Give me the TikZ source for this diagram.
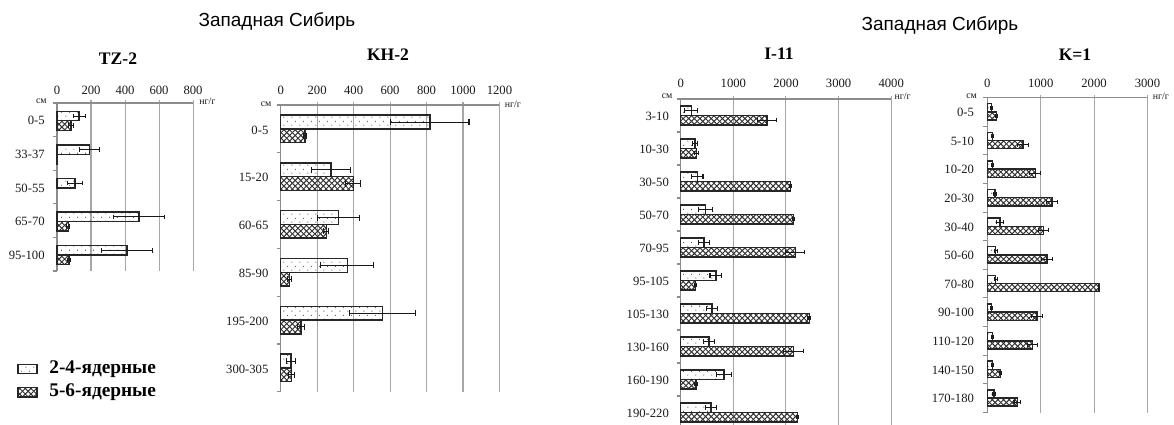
\documentclass[tikz,border=0pt]{standalone}
\usepackage{fontspec}
\setmainfont{Liberation Serif}
\newfontfamily\titlefont{Liberation Sans}
\usetikzlibrary{patterns,patterns.meta}

\tikzdeclarepattern{
  name=sparsedots,
  type=uncolored,
  bounding box={(0pt,0pt) and (4.6pt,4.6pt)},
  tile size={(4.6pt,4.6pt)},
  code={
    \fill (1.15pt,1.15pt) circle (0.35pt);
    \fill (3.45pt,3.45pt) circle (0.35pt);
  }
}
\tikzdeclarepattern{
  name=xhatch,
  type=uncolored,
  bounding box={(-0.5pt,-0.5pt) and (3.7pt,3.7pt)},
  tile size={(3.2pt,3.2pt)},
  code={
    \draw[line width=0.55pt] (0pt,0pt) -- (3.2pt,3.2pt) (0pt,3.2pt) -- (3.2pt,0pt);
  }
}

\begin{document}
\begin{tikzpicture}[x=0.02cm, y=-0.02cm,
  dotbar/.style={draw=black!85, line width=0.8pt, pattern=sparsedots, pattern color=black!75},
  hatchbar/.style={draw=black!85, line width=0.8pt, pattern=xhatch, pattern color=black!80},
  errbar/.style={draw=black!90, line width=0.6pt},
  gridline/.style={draw=black!35, line width=0.6pt},
  axisline/.style={draw=black!45, line width=0.6pt},
  catlabel/.style={font=\fontsize{7.2}{8}\selectfont, text=black!90, anchor=east, inner sep=0pt},
  ticklabel/.style={font=\fontsize{7.2}{8}\selectfont, text=black!90, inner sep=0pt},
  unitlabel/.style={font=\fontsize{5.6}{6}\selectfont, text=black!90, inner sep=0pt},
  charttitle/.style={font=\fontsize{10}{12}\selectfont\bfseries, inner sep=0pt},
  regiontitle/.style={font=\titlefont\fontsize{10.8}{13}\selectfont, inner sep=0pt},
  legendtext/.style={font=\fontsize{11}{13}\selectfont\bfseries, anchor=west, inner sep=0pt}]

  \useasboundingbox (0,0) rectangle (1174,425);

  \node[regiontitle] (west-a) at (277,22) {Западная Сибирь};
  \node[regiontitle] (west-b) at (940,26) {Западная Сибирь};

  \node[charttitle] (tz) at (118,59) {TZ-2};
  \node[charttitle] (kh) at (388,55) {KH-2};
  \node[charttitle] (ii) at (779,54) {I-11};
  \node[charttitle] (kk) at (1075,55) {K=1};

  % legend
  \draw[dotbar] (18,364.5) rectangle (37,373.5);
  \draw[hatchbar] (18,387.5) rectangle (37,397);
  \node[legendtext] (leg-a) at (49,369) {2-4-ядерные};
  \node[legendtext] (leg-b) at (49,392) {5-6-ядерные};

  % TZ-2
  \begin{scope}[shift={(57,103)}, x=0.0034cm]
    \foreach \v in {200,400,...,800} \draw[gridline] (\v,-3) -- (\v,168);
    \draw[axisline] (0,0) -- (800,0) (0,0) -- (0,168);
    \foreach \k in {0,...,5} \draw[axisline] (0,\k*33.6) -- ++(-0.08cm,0pt);
    \foreach \v in {0,200,...,800} \node[ticklabel] (tz-t\v) at (\v,-13) {\v};
    \node[unitlabel, anchor=east] (tz-cm) at ([xshift=-0.2cm]0,-2) {см};
    \node[unitlabel, anchor=west] (tz-ng) at ([xshift=0.12cm]800,-2) {нг/г};
    \foreach \lab/\va/\ea/\vb/\eb [count=\i] in
      {0-5/130/35/82/14, 33-37/190/60/2/0, 50-55/106/43/0/0,
       65-70/482/150/67/9, 95-100/412/150/70/10} {
      \pgfmathsetmacro\yc{(\i-0.5)*33.6+1}
      \node[catlabel] (tz-c\i) at ([xshift=-0.24cm]0,\yc) {\lab};
      \draw[dotbar] (0,\yc-9.5) rectangle (\va,\yc);
      \ifnum\ea>0
        \draw[errbar] (\va-\ea,\yc-4.75) -- (\va+\ea,\yc-4.75)
          (\va-\ea,\yc-7) -- (\va-\ea,\yc-2.5) (\va+\ea,\yc-7) -- (\va+\ea,\yc-2.5);
      \fi
      \ifnum\vb>0
        \draw[hatchbar] (0,\yc) rectangle (\vb,\yc+9.5);
      \fi
      \ifnum\eb>0
        \draw[errbar] (\vb-\eb,\yc+4.75) -- (\vb+\eb,\yc+4.75)
          (\vb-\eb,\yc+2.5) -- (\vb-\eb,\yc+7) (\vb+\eb,\yc+2.5) -- (\vb+\eb,\yc+7);
      \fi
    }
  \end{scope}

  % KH-2
  \begin{scope}[shift={(280.7,105)}, x=0.00365cm]
    \foreach \v in {200,400,...,1200} \draw[gridline] (\v,-3) -- (\v,287);
    \draw[axisline] (0,0) -- (1200,0) (0,0) -- (0,287);
    \foreach \k in {0,...,6} \draw[axisline] (0,\k*47.8) -- ++(-0.08cm,0pt);
    \foreach \v in {0,200,...,1200} \node[ticklabel] (kh-t\v) at (\v,-15) {\v};
    \node[unitlabel, anchor=east] (kh-cm) at ([xshift=-0.18cm]0,-1) {см};
    \node[unitlabel, anchor=west] (kh-ng) at ([xshift=0.1cm]1200,-1) {нг/г};
    \foreach \lab/\va/\ea/\vb/\eb [count=\i] in
      {0-5/818/215/133/8, 15-20/276/107/398/40, 60-65/316/114/250/14,
       85-90/365/145/49/10, 195-200/559/180/111/18, 300-305/56/25/60/15} {
      \pgfmathsetmacro\yc{(\i-0.5)*47.8}
      \node[catlabel] (kh-c\i) at ([xshift=-0.24cm]0,\yc+1) {\lab};
      \draw[dotbar] (0,\yc-13.7) rectangle (\va,\yc);
      \draw[errbar] (\va-\ea,\yc-6.85) -- (\va+\ea,\yc-6.85)
        (\va-\ea,\yc-9.9) -- (\va-\ea,\yc-3.8) (\va+\ea,\yc-9.9) -- (\va+\ea,\yc-3.8);
      \draw[hatchbar] (0,\yc) rectangle (\vb,\yc+13.7);
      \draw[errbar] (\vb-\eb,\yc+6.85) -- (\vb+\eb,\yc+6.85)
        (\vb-\eb,\yc+3.8) -- (\vb-\eb,\yc+9.9) (\vb+\eb,\yc+3.8) -- (\vb+\eb,\yc+9.9);
    }
  \end{scope}

  % I-11
  \begin{scope}[shift={(680.7,99)}, x=0.001058cm]
    \foreach \v in {1000,2000,...,4000} \draw[gridline] (\v,-3) -- (\v,326);
    \draw[axisline] (0,0) -- (4000,0) (0,0) -- (0,326);
    \foreach \k in {0,...,9} \draw[axisline] (0,\k*33) -- ++(-0.08cm,0pt);
    \foreach \v in {0,1000,...,4000} \node[ticklabel] (ii-t\v) at (\v,-15.7) {\v};
    \node[unitlabel, anchor=east] (ii-cm) at ([xshift=-0.16cm]0,-3) {см};
    \node[unitlabel, anchor=west] (ii-ng) at ([xshift=0.06cm]4000,-3) {нг/г};
    \foreach \lab/\va/\ea/\vb/\eb [count=\i] in
      {3-10/200/120/1640/180, 10-30/270/50/300/30, 30-50/314/110/2085/20,
       50-70/472/130/2148/20, 70-95/446/105/2180/180, 95-105/667/110/283/20,
       105-130/597/105/2444/25, 130-160/541/105/2142/190, 160-190/824/150/290/25,
       190-220/573/100/2223/15} {
      \pgfmathsetmacro\yc{(\i-0.5)*33}
      \node[catlabel] (ii-c\i) at ([xshift=-0.23cm]0,\yc+0.5) {\lab};
      \draw[dotbar] (0,\yc-9.4) rectangle (\va,\yc);
      \draw[errbar] (\va-\ea,\yc-4.7) -- (\va+\ea,\yc-4.7)
        (\va-\ea,\yc-7) -- (\va-\ea,\yc-2.4) (\va+\ea,\yc-7) -- (\va+\ea,\yc-2.4);
      \draw[hatchbar] (0,\yc) rectangle (\vb,\yc+9.4);
      \draw[errbar] (\vb-\eb,\yc+4.7) -- (\vb+\eb,\yc+4.7)
        (\vb-\eb,\yc+2.4) -- (\vb-\eb,\yc+7) (\vb+\eb,\yc+2.4) -- (\vb+\eb,\yc+7);
    }
  \end{scope}

  % K=1
  \begin{scope}[shift={(987.3,97.7)}, x=0.001062cm]
    \foreach \v in {1000,2000,3000} \draw[gridline] (\v,-3) -- (\v,315);
    \draw[axisline] (0,0) -- (3000,0) (0,0) -- (0,315);
    \foreach \k in {0,...,11} \draw[axisline] (0,\k*28.6) -- ++(-0.08cm,0pt);
    \foreach \v in {0,1000,...,3000} \node[ticklabel] (kk-t\v) at (\v,-14.4) {\v};
    \node[unitlabel, anchor=east] (kk-cm) at ([xshift=-0.2cm]0,-1) {см};
    \node[unitlabel, anchor=west] (kk-ng) at ([xshift=0.1cm]3000,-1) {нг/г};
    \foreach \lab/\va/\ea/\vb/\eb [count=\i] in
      {0-5/82/15/177/15, 5-10/94/15/666/100, 10-20/94/15/898/100,
       20-30/145/30/1212/100, 30-40/239/60/1055/90, 50-60/157/30/1118/100,
       70-80/157/30/2090/15, 90-100/82/20/930/100, 110-120/94/15/847/95,
       140-150/94/15/251/20, 170-180/126/25/565/65} {
      \pgfmathsetmacro\yc{(\i-0.5)*28.6}
      \node[catlabel] (kk-c\i) at ([xshift=-0.26cm]0,\yc+0.5) {\lab};
      \draw[dotbar] (0,\yc-8.2) rectangle (\va,\yc);
      \draw[errbar] (\va-\ea,\yc-4.1) -- (\va+\ea,\yc-4.1)
        (\va-\ea,\yc-6.1) -- (\va-\ea,\yc-2.1) (\va+\ea,\yc-6.1) -- (\va+\ea,\yc-2.1);
      \draw[hatchbar] (0,\yc) rectangle (\vb,\yc+8.2);
      \draw[errbar] (\vb-\eb,\yc+4.1) -- (\vb+\eb,\yc+4.1)
        (\vb-\eb,\yc+2.1) -- (\vb-\eb,\yc+6.1) (\vb+\eb,\yc+2.1) -- (\vb+\eb,\yc+6.1);
    }
  \end{scope}
\end{tikzpicture}
\end{document}
